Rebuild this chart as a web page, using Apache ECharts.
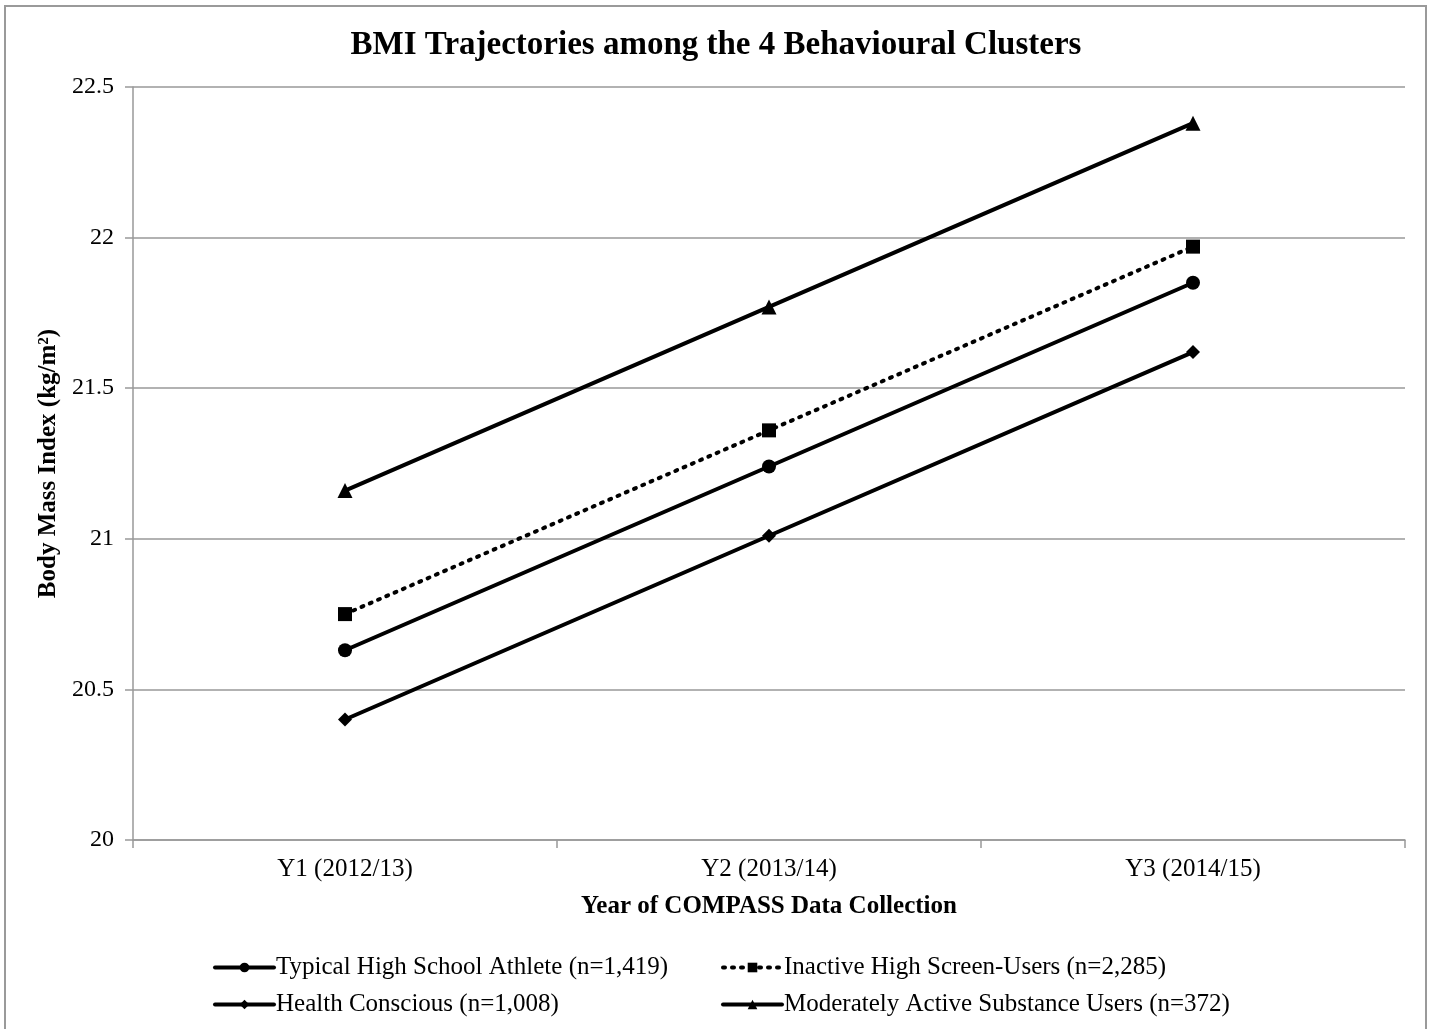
<!DOCTYPE html>
<html>
<head>
<meta charset="utf-8">
<script src="https://cdn.jsdelivr.net/npm/echarts@6/dist/echarts.min.js"></script>
<style>
html,body{margin:0;padding:0;background:#fff;}
#chart{width:1432px;height:1029px;}
</style>
</head>
<body>
<div id="chart"></div>
<script>
const categories = ['Y1 (2012/13)', 'Y2 (2013/14)', 'Y3 (2014/15)'];
const athlete = [20.63, 21.24, 21.85];
const inactive = [20.75, 21.36, 21.97];
const health = [20.40, 21.01, 21.62];
const moderate = [21.16, 21.77, 22.38];
const yTicks = ['20', '20.5', '21', '21.5', '22', '22.5'];
const names = [
  'Typical High School Athlete (n=1,419)',
  'Inactive High Screen-Users (n=2,285)',
  'Health Conscious (n=1,008)',
  'Moderately Active Substance Users (n=372)'
];

const FONT = '"Liberation Serif", "Times New Roman", serif';
const chart = echarts.init(document.getElementById('chart'));

function mkSeries(name, data, symbol, size, lineType) {
  return {
    name: name, type: 'line', data: data,
    symbol: symbol, symbolSize: size,
    lineStyle: { color: '#000', width: 4, type: lineType || 'solid', cap: 'round' },
    itemStyle: { color: '#000' },
    emphasis: { disabled: true },
    animation: false
  };
}

function mkLegend(name, left, top) {
  return {
    data: [name], left: left, top: top,
    itemWidth: 59, itemHeight: 12, itemGap: 0,
    lineStyle: { width: 4 },
    textStyle: { fontFamily: FONT, fontSize: 25, color: '#000', padding: [0,0,0,-3] },
    selectedMode: false
  };
}

chart.setOption({
  backgroundColor: '#fff',
  animation: false,
  graphic: [{
    type: 'rect', shape: { x: 5, y: 6, width: 1421, height: 1040 },
    style: { fill: 'none', stroke: '#9a9a9a', lineWidth: 2 }, silent: true
  }],
  title: {
    text: 'BMI Trajectories among the 4 Behavioural Clusters',
    left: 'center', top: 24,
    textStyle: { fontFamily: FONT, fontSize: 33, fontWeight: 'bold', color: '#000' }
  },
  legend: [
    mkLegend(names[0], 208, 950),
    mkLegend(names[1], 716, 950),
    mkLegend(names[2], 208, 987),
    mkLegend(names[3], 716, 987)
  ],
  grid: { left: 133, right: 27, top: 87, bottom: 189 },
  xAxis: {
    type: 'category', data: categories, boundaryGap: true,
    name: 'Year of COMPASS Data Collection', nameLocation: 'middle', nameGap: 54,
    nameTextStyle: { fontFamily: FONT, fontSize: 25, fontWeight: 'bold', color: '#000' },
    axisLine: { lineStyle: { color: '#999', width: 1.5 } },
    axisTick: { show: true, length: 8, lineStyle: { color: '#999', width: 1.5 } },
    axisLabel: { fontFamily: FONT, fontSize: 25, color: '#000', margin: 17 }
  },
  yAxis: {
    type: 'value', min: 20, max: 22.5, interval: 0.5,
    name: 'Body Mass Index (kg/m²)', nameLocation: 'middle', nameGap: 64, nameRotate: 90,
    nameTextStyle: { fontFamily: FONT, fontSize: 25, fontWeight: 'bold', color: '#000' },
    axisLine: { show: true, lineStyle: { color: '#999', width: 1.5 } },
    axisTick: { show: true, length: 8, lineStyle: { color: '#999', width: 1.5 } },
    splitLine: { lineStyle: { color: '#999', width: 1.5 } },
    axisLabel: { fontFamily: FONT, fontSize: 24, color: '#000', margin: 19,
      formatter: function (v) { return yTicks[Math.round((v - 20) / 0.5)]; } }
  },
  series: [
    mkSeries(names[0], athlete, 'circle', 14),
    mkSeries(names[1], inactive, 'rect', 14, [2, 7]),
    mkSeries(names[2], health, 'diamond', 14),
    mkSeries(names[3], moderate, 'triangle', 15)
  ]
});
</script>
</body>
</html>
